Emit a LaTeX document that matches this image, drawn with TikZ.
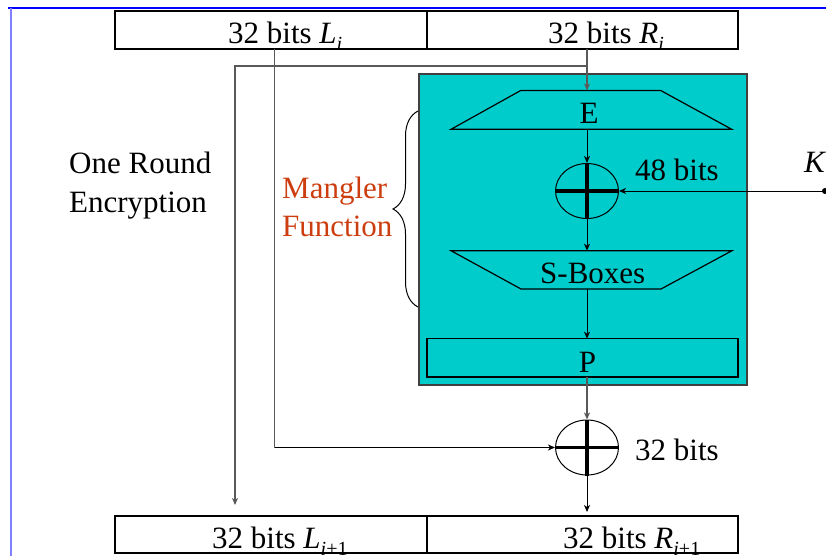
\documentclass[tikz,border=0pt]{standalone}
\usepackage{fontspec}
\setmainfont{Liberation Serif}
\usetikzlibrary{arrows.meta,decorations.pathreplacing,shapes.geometric}
\definecolor{tealfill}{RGB}{0,204,204}
\definecolor{mang}{RGB}{204,62,16}
\definecolor{frameblue}{RGB}{0,0,255}
\definecolor{framelight}{RGB}{128,128,255}
\newcommand{\sbs}[1]{\raisebox{-7pt}{\fontsize{20}{20}\selectfont #1}}
\begin{document}
\begin{tikzpicture}[x=1pt,y=-1pt,
 txt/.style={inner sep=0pt, font=\fontsize{31}{31}\selectfont},
 halfbox/.style={draw=black, line width=1.2pt, inner sep=0pt},
 grayline/.style={draw=black!65, line width=1.5pt},
 tip/.style={-{Stealth[length=7pt,width=6pt,inset=2pt]}},
 conn/.style={draw=black, line width=1pt, tip},
 xorcirc/.style={ellipse, draw=black, line width=1pt, minimum width=63pt, minimum height=55pt, inner sep=0pt},
 bar/.style={line width=3.5pt, draw=black},
 trap/.style={draw=black, line width=1.2pt},
]
\useasboundingbox (0,0) rectangle (826,556);
% frame
\draw[draw=frameblue, line width=1.5pt] (8,8) -- (826,8);
\draw[draw=framelight, line width=2pt] (11,8) -- (11,556);

% top and bottom halves
\node[halfbox, minimum width=312pt, minimum height=38pt] (topL) at (271,30) {};
\node[halfbox, minimum width=311pt, minimum height=38pt] (topR) at (582.5,30) {};
\node[halfbox, minimum width=312pt, minimum height=37pt] (botL) at (271,534.5) {};
\node[halfbox, minimum width=311pt, minimum height=37pt] (botR) at (582.5,534.5) {};
\node[txt, anchor=base west] (tLt) at (228,44) {32 bits \textit{L}\sbs{\textit{i}}};
\node[txt, anchor=base west] (tRt) at (548,44) {32 bits \textit{R}\sbs{\textit{i}}};
\node[txt, anchor=base west] (bLt) at (212,548) {32 bits \textit{L}\sbs{\textit{i}+1}};
\node[txt, anchor=base west] (bRt) at (563,548) {32 bits \textit{R}\sbs{\textit{i}+1}};

% mangler box
\node[draw=black!75, line width=1.2pt, fill=tealfill, minimum width=328pt, minimum height=311pt, inner sep=0pt] (mbox) at (583,229.5) {};
\draw[trap] (520.7,90.5) -- (660.7,90.5) -- (731.7,129.3) -- (451,129.3) -- cycle;
\draw[trap] (451,250.7) -- (732,250.7) -- (661,289) -- (521,289) -- cycle;
\node[draw=black, line width=1.2pt, minimum width=311pt, minimum height=38.3pt, inner sep=0pt] (pbox) at (582.5,357.8) {};
\node[txt, anchor=base] (etxt) at (589,124) {E};
\node[txt, anchor=base west] (stxt) at (540,283) {S-Boxes};
\node[txt, anchor=base] (ptxt) at (587.5,372) {P};

% XORs
\node[xorcirc] (x1) at (587,191) {};
\node[xorcirc] (x2) at (587,447.5) {};
\draw[bar] (x1.north) -- (x1.south);
\draw[bar] (x1.west) -- (x1.east);
\draw[bar] (x2.north) -- (x2.south);
\draw[bar] (x2.west) -- (x2.east);

% coordinates
\coordinate (lsrc) at (274.7,49);
\coordinate (lturn) at (274.7,447.5);
\coordinate (rsrc) at (587,49);
\coordinate (rtap) at (587,66);
\coordinate (etop) at (587,90.5);
\coordinate (ltap) at (235,66);
\coordinate (lend) at (235,505);
\coordinate (ebot) at (587,129.3);
\coordinate (kdot) at (825,191);
\coordinate (stop) at (587,250.7);
\coordinate (sbot) at (587,289);
\coordinate (ptop) at (587,338.7);
\coordinate (pbot) at (587,377);
\coordinate (rend) at (587,512);

% connectors
\draw[grayline, tip] (rsrc) -- (etop);
\draw[grayline, tip] (rtap) -- (ltap) -- (lend);
\draw[grayline] (lsrc) -- (lturn);
\draw[conn] (lturn) -- (x2.west);
\draw[conn] (ebot) -- (x1.north);
\fill[black] (kdot) circle (3pt);
\draw[conn] (kdot) -- (x1.east);
\draw[conn] (x1.south) -- (stop);
\draw[conn] (sbot) -- (ptop);
\draw[grayline, tip] (pbot) -- (x2.north);
\draw[conn] (x2.south) -- (rend);

% labels
\node[txt, anchor=base west] (k48) at (635,180) {48 bits};
\node[txt, anchor=base west] (ktxt) at (804,172) {\textit{K}};
\node[txt, anchor=base west] (k32) at (635,460) {32 bits};
\node[txt, anchor=base west] (or1) at (69,173) {One Round};
\node[txt, anchor=base west] (or2) at (69,212) {Encryption};
\node[txt, anchor=base west, text=mang] (mf1) at (282,198) {Mangler};
\node[txt, anchor=base west, text=mang] (mf2) at (282,236) {Function};

% brace
\draw[draw=black, line width=1pt, decorate, decoration={brace, amplitude=25pt}] (418,307) -- (418,111);
\end{tikzpicture}
\end{document}
